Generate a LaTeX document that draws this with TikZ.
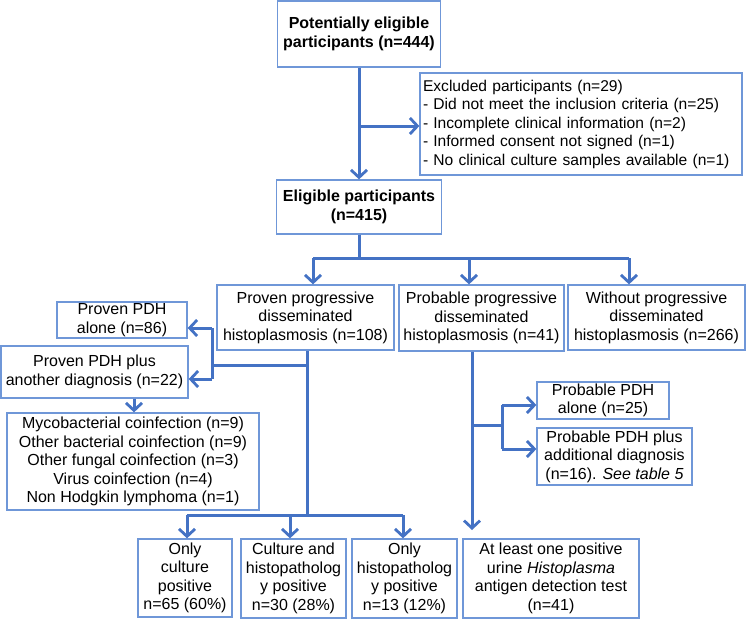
\documentclass[tikz,border=0pt]{standalone}
\usepackage{fontspec}
\setmainfont{Liberation Sans}
\usetikzlibrary{arrows.meta}
\definecolor{linec}{HTML}{4472C4}
\definecolor{boxc}{HTML}{6F97D8}
\begin{document}
\begin{tikzpicture}[x=1pt,y=-1pt,
  box/.style={draw=boxc, line width=1.3pt, inner sep=0pt, align=center,
    font=\fontsize{16}{18.5}\selectfont},
  conn/.style={draw=linec, line width=3pt},
  arr/.style={conn, -{Straight Barb[length=7.5pt,width=16pt,line width=2.8pt]}}]
\useasboundingbox (0,0) rectangle (746,619);
% boxes
\node[box, minimum width=163pt, minimum height=66pt, font=\fontsize{16}{18.5}\selectfont\bfseries] (top) at (359,34) {Potentially eligible\\participants (n=444)};
\node[box, text width=316pt, minimum height=102pt, align=left, inner xsep=3pt, font=\fontsize{15.6}{18.5}\selectfont] (excl) at (581,124) {Excluded participants (n=29)\\- Did not meet the inclusion criteria (n=25)\\- Incomplete clinical information (n=2)\\- Informed consent not signed (n=1)\\- No clinical culture samples available (n=1)};
\node[box, minimum width=165pt, minimum height=54pt, font=\fontsize{16}{18.5}\selectfont\bfseries] (elig) at (359,207) {Eligible participants\\(n=415)};
\node[box, minimum width=177pt, minimum height=65pt] (proven) at (305.5,317.5) {Proven progressive\\disseminated\\histoplasmosis (n=108)};
\node[box, minimum width=165pt, minimum height=66pt] (prob) at (481.5,318) {Probable progressive\\disseminated\\histoplasmosis (n=41)};
\node[box, minimum width=177pt, minimum height=65pt] (without) at (656.5,317.5) {Without progressive\\disseminated\\histoplasmosis (n=266)};
\node[box, minimum width=130pt, minimum height=36pt] (palone) at (122,320) {Proven PDH\\alone (n=86)};
\node[box, minimum width=187pt, minimum height=52pt] (pplus) at (94.5,372) {Proven PDH plus\\another diagnosis (n=22)};
\node[box, minimum width=252pt, minimum height=97pt] (coinf) at (133,461.5) {Mycobacterial coinfection (n=9)\\Other bacterial coinfection (n=9)\\Other fungal coinfection (n=3)\\Virus coinfection (n=4)\\Non Hodgkin lymphoma (n=1)};
\node[box, minimum width=94pt, minimum height=78pt] (oculture) at (185,578) {Only\\culture\\positive\\n=65 (60\%)};
\node[box, minimum width=105pt, minimum height=79pt] (cult) at (293.5,578.5) {Culture and\\histopatholog\\y positive\\n=30 (28\%)};
\node[box, minimum width=105pt, minimum height=79pt] (ohisto) at (404.5,578.5) {Only\\histopatholog\\y positive\\n=13 (12\%)};
\node[box, minimum width=176pt, minimum height=79pt] (atleast) at (551,578.5) {At least one positive\\urine \textit{Histoplasma}\\antigen detection test\\(n=41)};
\node[box, minimum width=132pt, minimum height=37pt] (balone) at (603,400.5) {Probable PDH\\alone (n=25)};
\node[box, minimum width=155pt, minimum height=57pt] (bplus) at (614.5,456.5) {Probable PDH plus\\additional diagnosis\\(n=16). \textit{See table 5}};
% coordinates
\coordinate (b1) at (359,126);
\coordinate (h0) at (359,258);
\coordinate (ha) at (313,258);
\coordinate (hb) at (469,258);
\coordinate (hc) at (629,258);
\coordinate (pv) at (307,365);
\coordinate (pl) at (212,365);
\coordinate (pla) at (212,328);
\coordinate (plb) at (212,379);
\coordinate (bv) at (307,515);
\coordinate (bl) at (187,515);
\coordinate (bm) at (290,515);
\coordinate (br) at (403,515);
\coordinate (qv) at (472,425);
\coordinate (qr) at (502,425);
\coordinate (qa) at (502,405);
\coordinate (qb) at (502,449);
\coordinate (qend) at (472,530);
% connectors
\draw[arr] (top.south) -- (elig.north);
\draw[arr] (b1) -- (b1 -| excl.west);
\draw[conn] (elig.south) -- (h0);
\draw[conn] (ha) -- (hc);
\draw[arr] (ha) -- (ha |- proven.north);
\draw[arr] (hb) -- (hb |- prob.north);
\draw[arr] (hc) -- (hc |- without.north);
\draw[conn] (pv |- proven.south) -- (bv);
\draw[conn] (pv) -- (pl);
\draw[conn] (pla) -- (plb);
\draw[arr] (pla) -- (pla -| palone.east);
\draw[arr] (plb) -- (plb -| pplus.east);
\draw[arr] (pplus.south -| 134,0) -- (coinf.north -| 134,0);
\draw[conn] (bl) -- (br);
\draw[arr] (bl) -- (bl |- oculture.north);
\draw[arr] (bm) -- (bm |- cult.north);
\draw[arr] (br) -- (br |- ohisto.north);
\draw[arr] (qend |- prob.south) -- (qend);
\draw[conn] (qv) -- (qr);
\draw[conn] (qa) -- (qb);
\draw[arr] (qa) -- (qa -| balone.west);
\draw[arr] (qb) -- (qb -| bplus.west);
\end{tikzpicture}
\end{document}
